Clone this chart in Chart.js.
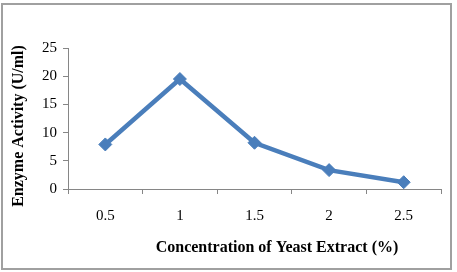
<!DOCTYPE html>
<html>
<head>
<meta charset="utf-8">
<script src="https://cdn.jsdelivr.net/npm/chart.js@4"></script>
<style>
  body { margin: 0; background: #fff; }
  #wrap { width: 457px; height: 272px; position: relative; }
</style>
</head>
<body>
<div id="wrap"><canvas id="myChart" width="457" height="272"></canvas></div>
<script>
const concentrations = ['0.5', '1', '1.5', '2', '2.5'];
const enzymeActivity = [7.9, 19.5, 8.2, 3.35, 1.2];
const yTicks = [0, 5, 10, 15, 20, 25];

const xTitle = 'Concentration of Yeast Extract (%)';
const yTitle = 'Enzyme Activity (U/ml)';
const serif = '"Liberation Serif", "Times New Roman", serif';
const axisGray = '#868686';

// frame around the picture plus the two axis titles
const decor = {
    id: 'decor',
    beforeDraw(chart) {
        const c = chart.ctx;
        c.save();
        c.strokeStyle = '#a0a0a0';
        c.lineWidth = 2;
        c.strokeRect(2, 4, 449, 265);
        c.restore();
    },
    afterDraw(chart) {
        const c = chart.ctx;
        c.save();
        c.fillStyle = '#000';
        c.font = 'bold 16px ' + serif;
        c.textAlign = 'center';
        c.textBaseline = 'middle';
        c.fillText(xTitle, 277, 248);
        c.translate(19, 126);
        c.rotate(-Math.PI / 2);
        c.fillText(yTitle, 0, 0);
        c.restore();
    }
};

const ctx = document.getElementById('myChart').getContext('2d');
const myChart = new Chart(ctx, {
    type: 'line',
    data: {
        labels: concentrations,
        datasets: [{
            data: enzymeActivity,
            borderColor: '#4a7ebb',
            backgroundColor: '#4a7ebb',
            borderWidth: 4.5,
            pointStyle: 'rectRot',
            pointRadius: 6.5,
            pointBorderWidth: 1,
            tension: 0
        }]
    },
    options: {
        responsive: false,
        animation: false,
        layout: { padding: { top: 48, right: 16, left: 0, bottom: 0 } },
        plugins: { legend: { display: false }, tooltip: { enabled: false } },
        scales: {
            x: {
                offset: true,
                grid: { offset: true, drawOnChartArea: false, color: axisGray, tickLength: 5 },
                border: { color: axisGray, width: 1 },
                ticks: { color: '#000', font: { family: serif, size: 15 }, padding: 13 },
                afterFit(scale) { scale.height = 83; }
            },
            y: {
                min: 0,
                max: 25,
                afterBuildTicks(scale) { scale.ticks = yTicks.map(v => ({ value: v })); },
                grid: { drawOnChartArea: false, color: axisGray, tickLength: 5 },
                border: { color: axisGray, width: 1 },
                ticks: { color: '#000', font: { family: serif, size: 15 }, padding: 6 },
                afterFit(scale) { scale.width = 68; }
            }
        }
    },
    plugins: [decor]
});
</script>
</body>
</html>
